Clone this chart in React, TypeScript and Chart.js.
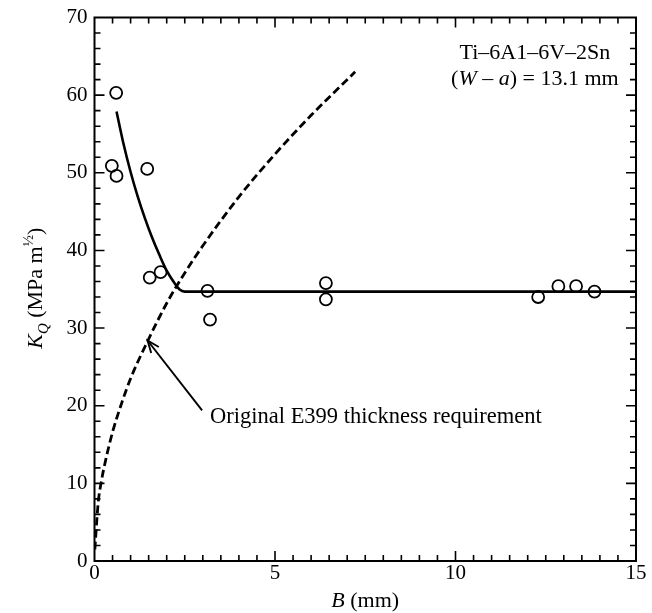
import React, { useEffect, useRef } from "react";
import { Chart, registerables } from "chart.js";

Chart.register(...registerables);

// Measured specimens: thickness B (mm) vs K_Q (MPa m^1/2)
const specimenB = [0.6, 0.48, 0.61, 1.46, 1.53, 1.83, 3.13, 3.2, 6.41, 6.41, 12.29, 12.85, 13.34, 13.85];
const specimenKQ = [60.3, 50.9, 49.6, 50.5, 36.5, 37.2, 34.8, 31.1, 35.8, 33.7, 34.0, 35.4, 35.4, 34.7];

// Fitted trend (solid)
const trendB = [0.61, 0.8, 1.0, 1.2, 1.4, 1.6, 1.8, 2.0, 2.2, 2.35, 2.5, 15];
const trendKQ = [57.9, 53.8, 50.1, 46.9, 44.1, 41.6, 39.4, 37.4, 35.9, 35.0, 34.7, 34.7];

// Original E399 thickness requirement (dashed)
const e399B = [0.01, 0.1, 0.18, 0.3, 0.5, 0.75, 1.0, 1.48, 2.0, 2.5, 3.0, 4.0, 5.0, 6.0, 7.22];
const e399KQ = [1.5, 7.4, 10.0, 12.8, 16.6, 20.3, 23.5, 28.4, 33.2, 37.1, 40.6, 46.9, 52.4, 57.4, 63.0];

const xTicks = [0, 5, 10, 15];
const yTicks = [0, 10, 20, 30, 40, 50, 60, 70];

const FONT = "'Liberation Serif', 'DejaVu Serif', serif";

type Seg = { t: string; it?: boolean; sub?: boolean; sup?: boolean };

function drawSegs(ctx: CanvasRenderingContext2D, segs: Seg[], x: number, y: number, size: number, align: "left" | "center" | "right") {
  const fontFor = (s: Seg) => `${s.it ? "italic " : ""}${s.sub || s.sup ? Math.round(size * 0.68) : size}px ${FONT}`;
  let total = 0;
  for (const s of segs) {
    ctx.font = fontFor(s);
    total += ctx.measureText(s.t).width;
  }
  let cx = align === "left" ? x : align === "center" ? x - total / 2 : x - total;
  ctx.textAlign = "left";
  ctx.textBaseline = "alphabetic";
  for (const s of segs) {
    ctx.font = fontFor(s);
    const dy = s.sub ? size * 0.25 : s.sup ? -size * 0.4 : 0;
    ctx.fillText(s.t, cx, y + dy);
    cx += ctx.measureText(s.t).width;
  }
}

const framePlugin = {
  id: "frame",
  afterDraw(chart: any) {
    const { ctx, chartArea: a, scales } = chart;
    const xs = scales.x;
    const ys = scales.y;
    ctx.save();
    ctx.strokeStyle = "#000";
    ctx.fillStyle = "#000";
    ctx.lineWidth = 2;
    ctx.strokeRect(a.left, a.top, a.right - a.left, a.bottom - a.top);
    ctx.lineWidth = 1.6;
    // x ticks every 0.5, majors at 5
    for (let i = 1; i < 30; i++) {
      const v = i * 0.5;
      const px = xs.getPixelForValue(v);
      const len = v % 5 === 0 ? 10 : 6;
      ctx.beginPath();
      ctx.moveTo(px, a.bottom);
      ctx.lineTo(px, a.bottom - len);
      ctx.moveTo(px, a.top);
      ctx.lineTo(px, a.top + len);
      ctx.stroke();
    }
    for (let i = 1; i < 35; i++) {
      const v = i * 2;
      const py = ys.getPixelForValue(v);
      const len = v % 10 === 0 ? 10 : 6;
      ctx.beginPath();
      ctx.moveTo(a.left, py);
      ctx.lineTo(a.left + len, py);
      ctx.moveTo(a.right, py);
      ctx.lineTo(a.right - len, py);
      ctx.stroke();
    }
    // axis titles
    drawSegs(ctx, [{ t: "B", it: true }, { t: " (mm)" }], (a.left + a.right) / 2, 607, 22, "center");
    ctx.save();
    ctx.translate(42, (a.top + a.bottom) / 2 - 1);
    ctx.rotate(-Math.PI / 2);
    drawSegs(ctx, [{ t: "K", it: true }, { t: "Q", it: true, sub: true }, { t: " (MPa m" }, { t: "½", sup: true }, { t: ")" }], 0, 0, 22, "center");
    ctx.restore();
    // top-right note
    const nx = xs.getPixelForValue(12.2);
    drawSegs(ctx, [{ t: "Ti–6A1–6V–2Sn" }], nx, ys.getPixelForValue(64.7), 22, "center");
    drawSegs(ctx, [{ t: "(" }, { t: "W", it: true }, { t: " – " }, { t: "a", it: true }, { t: ") = 13.1 mm" }], nx, ys.getPixelForValue(61.3), 22, "center");
    // arrow annotation
    const tipX = xs.getPixelForValue(1.47);
    const tipY = ys.getPixelForValue(28.4);
    const tailX = xs.getPixelForValue(2.98);
    const tailY = ys.getPixelForValue(19.4);
    ctx.lineWidth = 1.9;
    ctx.beginPath();
    ctx.moveTo(tailX, tailY);
    ctx.lineTo(tipX, tipY);
    ctx.stroke();
    const ang = Math.atan2(tipY - tailY, tipX - tailX);
    const hl = 13;
    ctx.beginPath();
    ctx.moveTo(tipX - hl * Math.cos(ang - 0.38), tipY - hl * Math.sin(ang - 0.38));
    ctx.lineTo(tipX, tipY);
    ctx.lineTo(tipX - hl * Math.cos(ang + 0.38), tipY - hl * Math.sin(ang + 0.38));
    ctx.stroke();
    drawSegs(ctx, [{ t: "Original E399 thickness requirement" }], xs.getPixelForValue(3.2), ys.getPixelForValue(18.65) + 7, 22.5, "left");
    ctx.restore();
  },
};

export default function App() {
  const ref = useRef<HTMLCanvasElement>(null);
  useEffect(() => {
    if (!ref.current) return;
    const chart = new Chart(ref.current, {
      type: "scatter",
      data: {
        datasets: [
          {
            type: "line",
            data: e399B.map((b, i) => ({ x: b, y: e399KQ[i] })),
            borderColor: "#000",
            borderWidth: 2.8,
            borderDash: [8, 4],
            pointRadius: 0,
            cubicInterpolationMode: "monotone",
            fill: false,
          },
          {
            type: "line",
            data: trendB.map((b, i) => ({ x: b, y: trendKQ[i] })),
            borderColor: "#000",
            borderWidth: 2.6,
            pointRadius: 0,
            cubicInterpolationMode: "monotone",
            fill: false,
          },
          {
            data: specimenB.map((b, i) => ({ x: b, y: specimenKQ[i] })),
            pointStyle: "circle",
            pointRadius: 6,
            pointBorderWidth: 1.8,
            pointBorderColor: "#000",
            pointBackgroundColor: "rgba(255,255,255,0)",
          },
        ],
      },
      options: {
        animation: false,
        responsive: false,
        layout: { padding: { top: 15, right: 16, left: 0, bottom: 0 } },
        plugins: { legend: { display: false }, tooltip: { enabled: false } },
        scales: {
          x: {
            type: "linear",
            min: 0,
            max: 15,
            afterBuildTicks: (s: any) => { s.ticks = xTicks.map((v) => ({ value: v })); },
            afterFit: (s: any) => { s.height = 52; },
            grid: { display: false, drawTicks: false },
            border: { display: false },
            ticks: { color: "#000", padding: 2, font: { family: FONT, size: 21, lineHeight: 1 } },
          },
          y: {
            type: "linear",
            min: 0,
            max: 70,
            afterBuildTicks: (s: any) => { s.ticks = yTicks.map((v) => ({ value: v })); },
            afterFit: (s: any) => { s.width = 94.5; },
            grid: { display: false, drawTicks: false },
            border: { display: false },
            ticks: { color: "#000", padding: 7, font: { family: FONT, size: 21, lineHeight: 1 } },
          },
        },
      },
      plugins: [framePlugin],
    } as any);
    return () => chart.destroy();
  }, []);
  return (
    <div style={{ position: "absolute", left: 0, top: 0, width: 652, height: 613, background: "#fff" }}>
      <canvas ref={ref} width={652} height={613} style={{ width: 652, height: 613 }} />
    </div>
  );
}
